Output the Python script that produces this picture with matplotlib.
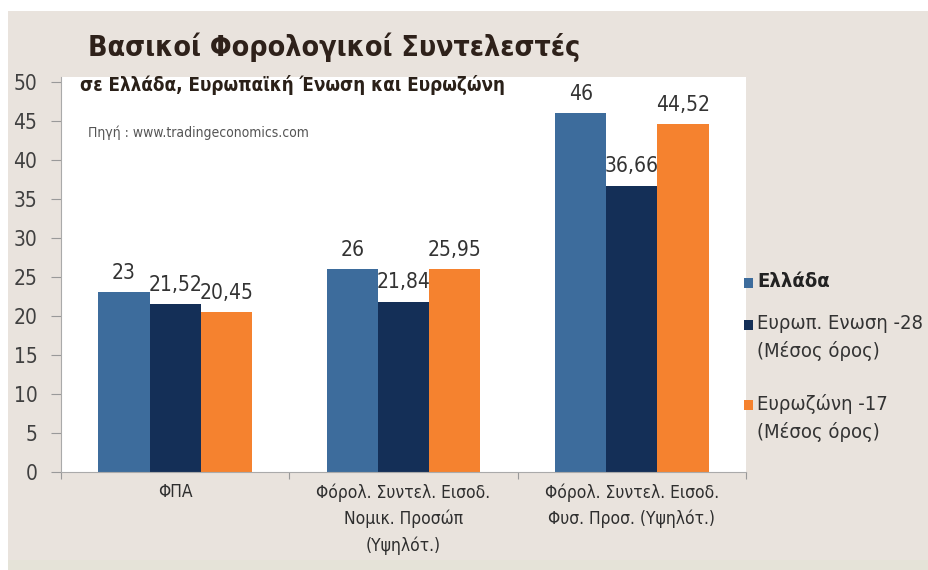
import matplotlib
matplotlib.use("Agg")
from matplotlib import pyplot as plt
from matplotlib.patches import Rectangle
import numpy as np

plt.rcParams['font.family'] = ['DejaVu Sans']
plt.rcParams['font.stretch'] = 'condensed'

categories = ['ΦΠΑ',
              'Φόρολ. Συντελ. Εισοδ.\nΝομικ. Προσώπ\n(Υψηλότ.)',
              'Φόρολ. Συντελ. Εισοδ.\nΦυσ. Προσ. (Υψηλότ.)']
greece = [23, 26, 46]
eu28 = [21.52, 21.84, 36.66]
ez17 = [20.45, 25.95, 44.52]
series_names = ['Ελλάδα', 'Ευρωπ. Ενωση -28\n(Μέσος όρος)', 'Ευρωζώνη -17\n(Μέσος όρος)']
colors = ['#3d6c9c', '#142f57', '#f5822f']

def fmt(v):
    s = ('%.2f' % v).rstrip('0').rstrip('.')
    return s.replace('.', ',')

fig = plt.figure(figsize=(9.29, 5.70), dpi=100, facecolor='white')
# beige card behind the chart
bg = Rectangle((8 / 929, 0), 1, 1 - 11 / 570, transform=fig.transFigure,
               facecolor='#e9e3dd', edgecolor='none', zorder=-10)
fig.add_artist(bg)
strip = Rectangle((8 / 929, 0), 1, 10 / 570, transform=fig.transFigure,
                  facecolor='#e5e3d8', edgecolor='none', zorder=-9)
fig.add_artist(strip)

ax = fig.add_axes([61 / 929, 1 - 472 / 570, (746 - 61) / 929, (472 - 77) / 570])
ax.set_zorder(1)
ax.set_facecolor('white')

x = np.arange(len(categories))
w = 0.224
for i, (vals, c) in enumerate(zip([greece, eu28, ez17], colors)):
    pos = x + (i - 1) * w
    ax.bar(pos, vals, w, color=c, zorder=2)
    for p, v in zip(pos, vals):
        ax.text(p, v + 1.2, fmt(v), ha='center', va='bottom', fontsize=15,
                color='#333333')

ax.set_xlim(-0.5, 2.5)
ax.set_ylim(0, 50.6)
ax.set_yticks(range(0, 51, 5))
ax.set_xticks([-0.5, 0.5, 1.5, 2.5])
ax.set_xticklabels([])
ax.set_xticks(x, minor=True)
ax.set_xticklabels(categories, minor=True, fontsize=12.5, color='#2e2e2e',
                   linespacing=1.55)
ax.tick_params(axis='x', which='minor', length=0, pad=8)
ax.tick_params(axis='x', which='major', length=5, color='#999999')
ax.tick_params(axis='y', length=7, color='#999999', labelsize=15,
               labelcolor='#404040', pad=10)
for s in ['top', 'right']:
    ax.spines[s].set_visible(False)
for s in ['left', 'bottom']:
    ax.spines[s].set_color('#aaaaaa')

fig.text(88 / 929, 1 - 47 / 570, 'Βασικοί Φορολογικοί Συντελεστές', fontsize=20.5,
         fontweight='heavy', color='#2e211a', va='center', ha='left', zorder=5)
fig.text(80 / 929, 1 - 85 / 570, 'σε Ελλάδα, Ευρωπαϊκή Ένωση και Ευρωζώνη', fontsize=13.5,
         fontweight='bold', color='#2a2018', va='center', ha='left', zorder=5)
fig.text(88 / 929, 1 - 133 / 570, 'Πηγή : www.tradingeconomics.com', fontsize=10,
         color='#555555', va='center', ha='left', zorder=5)

# legend: square beside the first line of each label
legend_rows = [283, 325, 405]
for name, c, row in zip(series_names, colors, legend_rows):
    y = 1 - row / 570
    fig.add_artist(Rectangle((744 / 929, y - 5 / 570), 9 / 929, 10 / 570,
                             transform=fig.transFigure, facecolor=c,
                             edgecolor='none', zorder=5))
    bold = name == series_names[0]
    fig.text(757 / 929, y + 11 / 570, name, fontsize=14.5, va='top', ha='left',
             fontweight='bold' if bold else 'normal',
             color='#222222' if bold else '#333333', linespacing=1.5, zorder=5)

fig.savefig('out.png', dpi=100, facecolor=fig.get_facecolor())
